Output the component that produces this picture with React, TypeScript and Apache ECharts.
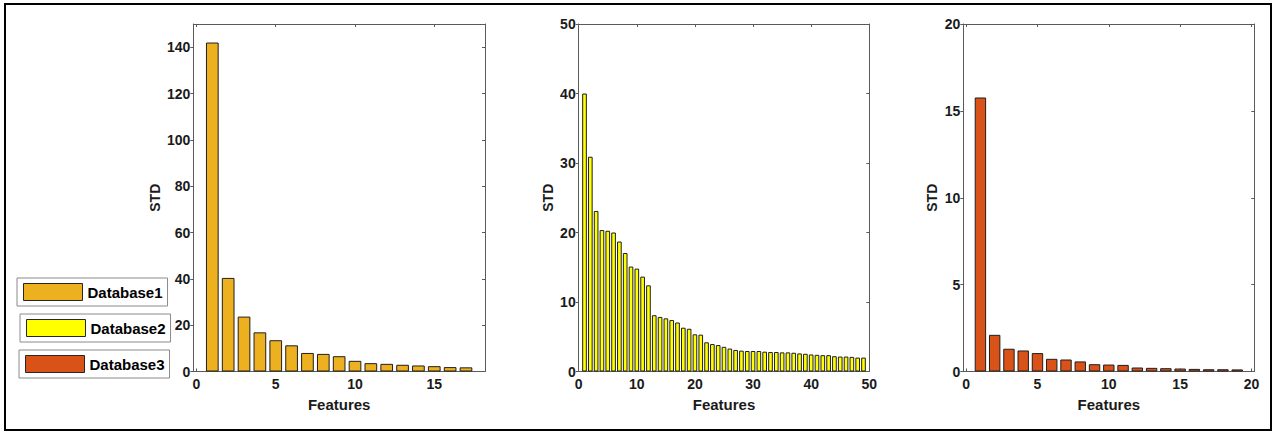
import React, { useEffect, useRef } from "react";
import * as echarts from "echarts";

const seriesNames = ["Database1", "Database2", "Database3"];
const colors = ["#EDB120", "#FFFF00", "#D95319"];

const db1Values = [142, 40.4, 23.7, 16.9, 13.5, 11.3, 8.0, 7.6, 6.6, 4.6, 3.6, 3.3, 2.9, 2.6, 2.3, 1.9, 1.8];
const db2Values = [
  40.0, 30.9, 23.1, 20.35, 20.25, 20.0, 18.7, 17.05, 15.1, 14.8,
  13.65, 12.4, 8.1, 7.85, 7.65, 7.4, 7.05, 6.3, 6.15, 5.35,
  5.3, 4.2, 3.95, 3.8, 3.55, 3.3, 3.1, 3.0, 2.95, 2.95,
  2.95, 2.85, 2.8, 2.8, 2.75, 2.75, 2.7, 2.6, 2.55, 2.45,
  2.4, 2.35, 2.35, 2.2, 2.15, 2.15, 2.1, 2.0, 2.0,
];
const db3Values = [15.77, 2.11, 1.31, 1.21, 1.06, 0.73, 0.69, 0.58, 0.42, 0.4, 0.38, 0.23, 0.21, 0.19, 0.17, 0.15, 0.13, 0.13, 0.12];

const xTicks = [
  [0, 5, 10, 15],
  [0, 10, 20, 30, 40, 50],
  [0, 5, 10, 15, 20],
];
const yTicks = [
  [0, 20, 40, 60, 80, 100, 120, 140],
  [0, 10, 20, 30, 40, 50],
  [0, 5, 10, 15, 20],
];
const xRanges = [
  [-0.2, 18.2],
  [0, 50],
  [-0.2, 20.2],
];
const yRanges = [
  [0, 150],
  [0, 50],
  [0, 20],
];
const allValues = [db1Values, db2Values, db3Values];

const FONT = "'Liberation Sans', Arial, sans-serif";

const grids = [
  { left: 193.3, top: 24, width: 291.7, height: 347.5 },
  { left: 578.7, top: 24, width: 290.6, height: 347.5 },
  { left: 963.3, top: 24, width: 291, height: 347.5 },
];
const yNameGaps = [31, 24, 24];
const legendBoxes = [
  { left: 17, top: 278 },
  { left: 20, top: 314 },
  { left: 19, top: 350 },
];

export default function App() {
  const ref = useRef<HTMLDivElement>(null);
  useEffect(() => {
    document.body.style.margin = "0";
    if (!ref.current) return;
    const chart = echarts.init(ref.current, null, { renderer: "svg" });
    const axisColor = "#5a5a5a";
    const textColor = "#1a1a1a";

    const xAxes: any[] = [];
    const yAxes: any[] = [];
    const series: any[] = [];
    grids.forEach((g, i) => {
      xAxes.push({
        type: "value",
        gridIndex: i,
        min: xRanges[i][0],
        max: xRanges[i][1],
        position: "bottom",
        name: "Features",
        nameLocation: "middle",
        nameGap: 25,
        nameTextStyle: { fontFamily: FONT, fontWeight: "bold", fontSize: 15, color: textColor },
        axisLine: { show: true, onZero: false, lineStyle: { color: axisColor, width: 1 } },
        axisTick: { show: true, inside: true, length: 3, customValues: xTicks[i], lineStyle: { color: axisColor } },
        axisLabel: { show: true, customValues: xTicks[i], margin: 5, fontFamily: FONT, fontWeight: "bold", fontSize: 14, color: textColor },
        splitLine: { show: false },
      });
      xAxes.push({
        type: "value",
        gridIndex: i,
        min: xRanges[i][0],
        max: xRanges[i][1],
        position: "top",
        axisLine: { show: true, onZero: false, lineStyle: { color: axisColor, width: 1 } },
        axisTick: { show: true, inside: true, length: 3, customValues: xTicks[i], lineStyle: { color: axisColor } },
        axisLabel: { show: false },
        splitLine: { show: false },
      });
      yAxes.push({
        type: "value",
        gridIndex: i,
        min: yRanges[i][0],
        max: yRanges[i][1],
        position: "left",
        name: "STD",
        nameLocation: "middle",
        nameGap: yNameGaps[i],
        nameRotate: 90,
        nameTextStyle: { fontFamily: FONT, fontWeight: "bold", fontSize: 14, color: textColor },
        axisLine: { show: true, onZero: false, lineStyle: { color: axisColor, width: 1 } },
        axisTick: { show: true, inside: false, length: 3, customValues: yTicks[i], lineStyle: { color: axisColor } },
        axisLabel: { show: true, customValues: yTicks[i], margin: 3, fontFamily: FONT, fontWeight: "bold", fontSize: 14, color: textColor },
        splitLine: { show: false },
      });
      yAxes.push({
        type: "value",
        gridIndex: i,
        min: yRanges[i][0],
        max: yRanges[i][1],
        position: "right",
        axisLine: { show: true, onZero: false, lineStyle: { color: axisColor, width: 1 } },
        axisTick: { show: true, inside: true, length: 3, customValues: yTicks[i], lineStyle: { color: axisColor } },
        axisLabel: { show: false },
        splitLine: { show: false },
      });
      const unitPx = g.width / (xRanges[i][1] - xRanges[i][0]);
      series.push({
        type: "bar",
        name: seriesNames[i],
        xAxisIndex: i * 2,
        yAxisIndex: i * 2,
        barWidth: unitPx * 0.8,
        barGap: "-100%",
        data: allValues[i].map((v, k) => [k + 1, v]),
        itemStyle: { color: colors[i], borderColor: "#1f1f1f", borderWidth: 1 },
        emphasis: { disabled: true },
      });
    });

    const legends = seriesNames.map((n, i) => ({
      data: [n],
      left: legendBoxes[i].left,
      top: legendBoxes[i].top,
      orient: "vertical",
      selectedMode: false,
      backgroundColor: "#ffffff",
      borderColor: "#8a8a8a",
      borderWidth: 1,
      padding: [5, 5, 5, 6],
      itemWidth: 59,
      itemHeight: 17,
      itemGap: 4,
      icon: "rect",
      itemStyle: { borderColor: "#262626", borderWidth: 1 },
      textStyle: { fontFamily: FONT, fontWeight: "bold", fontSize: 15, color: "#000" },
    }));

    chart.setOption({
      animation: false,
      backgroundColor: "#ffffff",
      grid: grids.map((g) => ({ ...g, containLabel: false })),
      xAxis: xAxes,
      yAxis: yAxes,
      series,
      legend: legends,
      graphic: [
        {
          type: "rect",
          shape: { x: 5, y: 4, width: 1266, height: 426 },
          style: { fill: "none", stroke: "#000", lineWidth: 2 },
          silent: true,
        },
      ],
    });
    return () => chart.dispose();
  }, []);
  return <div ref={ref} style={{ width: 1275, height: 432 }} />;
}
